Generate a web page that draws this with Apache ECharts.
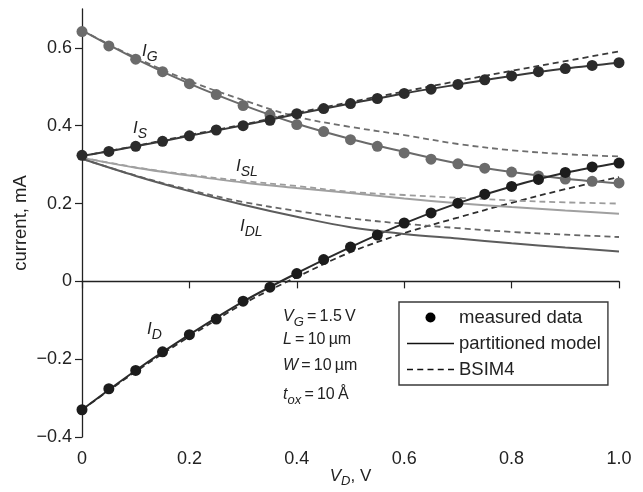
<!DOCTYPE html>
<html>
<head>
<meta charset="utf-8">
<script src="https://cdn.jsdelivr.net/npm/echarts@6/dist/echarts.min.js"></script>
<style>html,body{margin:0;padding:0;background:#fff}#c{width:643px;height:492px}</style>
</head>
<body>
<div id="c"></div>
<script>
// Measured V_D points (step 0.05)
const VD_MEAS = [0,0.05,0.1,0.15,0.2,0.25,0.3,0.35,0.4,0.45,0.5,0.55,0.6,0.65,0.7,0.75,0.8,0.85,0.9,0.95,1.0];
const IG_MEAS = [0.642,0.605,0.571,0.539,0.508,0.480,0.452,0.428,0.403,0.385,0.364,0.347,0.330,0.314,0.302,0.291,0.281,0.271,0.263,0.257,0.253];
const IS_MEAS = [0.324,0.334,0.347,0.360,0.374,0.389,0.400,0.414,0.431,0.444,0.457,0.470,0.483,0.494,0.506,0.518,0.528,0.539,0.547,0.555,0.562];
const ID_MEAS = [-0.330,-0.276,-0.229,-0.181,-0.137,-0.097,-0.051,-0.015,0.020,0.056,0.088,0.119,0.150,0.176,0.201,0.224,0.244,0.262,0.280,0.294,0.304];

// Model curves V_D points (step 0.1)
const VD_MODEL = [0,0.1,0.2,0.3,0.4,0.5,0.6,0.7,0.8,0.9,1.0];
// partitioned model
const IG_PART  = [0.645,0.572,0.508,0.453,0.405,0.366,0.333,0.303,0.281,0.264,0.252];
const IS_PART  = [0.322,0.347,0.374,0.401,0.430,0.457,0.483,0.506,0.528,0.547,0.562];
const ID_PART  = [-0.330,-0.229,-0.137,-0.052,0.021,0.088,0.149,0.201,0.244,0.279,0.305];
const ISL_PART = [0.318,0.292,0.272,0.254,0.240,0.227,0.213,0.201,0.191,0.182,0.174];
const IDL_PART = [0.315,0.271,0.232,0.197,0.166,0.139,0.122,0.110,0.098,0.087,0.077];
// BSIM4
const IG_BSIM  = [0.645,0.575,0.515,0.466,0.423,0.397,0.376,0.353,0.337,0.327,0.321];
const IS_BSIM  = [0.322,0.348,0.376,0.403,0.433,0.461,0.488,0.515,0.541,0.566,0.591];
const ID_BSIM  = [-0.330,-0.232,-0.142,-0.058,0.011,0.075,0.124,0.164,0.202,0.237,0.268];
const ISL_BSIM = [0.318,0.293,0.274,0.258,0.245,0.230,0.222,0.215,0.208,0.203,0.200];
const IDL_BSIM = [0.315,0.272,0.235,0.204,0.181,0.162,0.148,0.137,0.127,0.120,0.114];

const Y_TICKS = [-0.4,-0.2,0,0.2,0.4,0.6];
const X_TICKS = [0,0.2,0.4,0.6,0.8,1.0];
const LEGEND_NAMES = ['measured data','partitioned model','BSIM4'];

const FONT = "'Liberation Sans', Arial, Helvetica, sans-serif";
const zip = (xs, ys) => xs.map((x, i) => [x, ys[i]]);

function lineS(name, ys, color, width, dashed) {
  return {
    name, type: 'line', data: zip(VD_MODEL, ys), smooth: 0.35,
    symbol: 'none', showSymbol: false, silent: true, z: 2,
    lineStyle: { color, width, type: dashed ? [6, 4] : 'solid' }
  };
}
function dotS(name, ys, color) {
  return {
    name, type: 'scatter', data: zip(VD_MEAS, ys), symbolSize: 11, z: 3,
    itemStyle: { color, opacity: 1 }, silent: true
  };
}

function curveLabel(main, s, left, top) {
  return {
    type: 'text', left, top, z: 10,
    style: {
      text: '{i|' + main + '}{s|' + s + '}',
      rich: {
        i: { fontSize: 17, fontStyle: 'italic', fontFamily: FONT, fill: '#222', lineHeight: 19 },
        s: { fontSize: 14, fontStyle: 'italic', fontFamily: FONT, fill: '#222', lineHeight: 14, padding: [11, 0, 0, 0] }
      }
    }
  };
}
function annot(parts, left, top) {
  return { type: 'text', left, top, z: 10, style: { text: parts, rich: {
    it: { fontSize: 16, fontStyle: 'italic', fontFamily: FONT, fill: '#222', lineHeight: 18 },
    n: { fontSize: 16, fontFamily: FONT, fill: '#222', lineHeight: 18 },
    s: { fontSize: 13, fontStyle: 'italic', fontFamily: FONT, fill: '#222', lineHeight: 13, padding: [11, 0, 0, 0] }
  } } };
}

const fmtY = v => v === 0 ? '0' : (v < 0 ? '\u2212' + Math.abs(v).toFixed(1) : v.toFixed(1));
const fmtX = v => v === 0 ? '0' : v.toFixed(1);

// legend icons (shape only)
const ICON_SOLID = 'path://M0,0L47,0L47,1.6L0,1.6Z';
const ICON_DASH = 'path://M0,0h6v1.6h-6zM10.25,0h6v1.6h-6zM20.5,0h6v1.6h-6zM30.75,0h6v1.6h-6zM41,0h6v1.6h-6z';

const chart = echarts.init(document.getElementById('c'), null, { renderer: 'canvas' });
chart.setOption({
  animation: false,
  backgroundColor: '#fff',
  grid: { left: 82, right: 24, top: 9, bottom: 55, containLabel: false, outerBoundsMode: 'none' },
  xAxis: {
    type: 'value', min: 0, max: 1, interval: 0.2,
    name: '{v|V}{d|D}{n|, V}', nameLocation: 'middle', nameGap: 30, nameMoveOverlap: false,
    nameTextStyle: { rich: {
      v: { fontSize: 17, fontStyle: 'italic', fontFamily: FONT, color: '#222', lineHeight: 19 },
      d: { fontSize: 13, fontStyle: 'italic', fontFamily: FONT, color: '#222', lineHeight: 13, padding: [10, 0, 0, 0] },
      n: { fontSize: 17, fontFamily: FONT, color: '#222', lineHeight: 19 }
    } },
    axisLine: { lineStyle: { color: '#222', width: 1.3 } },
    axisTick: { length: 7, lineStyle: { color: '#222', width: 1.2 }, customValues: X_TICKS },
    axisLabel: { customValues: X_TICKS, formatter: fmtX, fontSize: 18, fontFamily: FONT, color: '#222', margin: 13 },
    splitLine: { show: false }
  },
  yAxis: {
    type: 'value', min: -0.4, max: 0.7, interval: 0.2,
    name: 'current, mA', nameLocation: 'middle', nameGap: 52, nameMoveOverlap: false,
    nameTextStyle: { fontSize: 18.5, fontFamily: FONT, color: '#222' },
    axisLine: { show: true, lineStyle: { color: '#222', width: 1.3 } },
    axisTick: { show: true, length: 7, lineStyle: { color: '#222', width: 1.2 }, customValues: Y_TICKS },
    axisLabel: { customValues: Y_TICKS, formatter: fmtY, fontSize: 18, fontFamily: FONT, color: '#222', margin: 10 },
    splitLine: { show: false }
  },
  legend: {
    data: [
      { name: LEGEND_NAMES[0], icon: 'circle', itemStyle: { color: '#000', borderWidth: 0, opacity: 1 } },
      { name: LEGEND_NAMES[1], icon: ICON_SOLID, itemStyle: { color: '#111', borderWidth: 0 } },
      { name: LEGEND_NAMES[2], icon: ICON_DASH, itemStyle: { color: '#111', borderWidth: 0 } }
    ],
    orient: 'vertical', left: 399, top: 302,
    backgroundColor: '#fff', borderColor: '#3a3a3a', borderWidth: 1.4,
    padding: [6, 7, 6, 8], itemWidth: 47, itemHeight: 10, itemGap: 7,
    itemStyle: { color: '#000', opacity: 1 },
    textStyle: { fontSize: 18.5, fontFamily: FONT, color: '#222' },
    selectedMode: false
  },
  series: [
    // legend proxies
    { name: LEGEND_NAMES[0], type: 'scatter', data: [], itemStyle: { color: '#000' } },
    { name: LEGEND_NAMES[1], type: 'scatter', data: [], itemStyle: { color: '#111' } },
    { name: LEGEND_NAMES[2], type: 'scatter', data: [], itemStyle: { color: '#111' } },
    // BSIM4 dashed
    lineS('IG bsim', IG_BSIM, '#6e6e6e', 1.8, true),
    lineS('IS bsim', IS_BSIM, '#3a3a3a', 1.8, true),
    lineS('ID bsim', ID_BSIM, '#2e2e2e', 1.8, true),
    lineS('ISL bsim', ISL_BSIM, '#9c9c9c', 1.8, true),
    lineS('IDL bsim', IDL_BSIM, '#666666', 1.8, true),
    // partitioned model solid
    lineS('IG part', IG_PART, '#6a6a6a', 2, false),
    lineS('IS part', IS_PART, '#383838', 2, false),
    lineS('ID part', ID_PART, '#2a2a2a', 2, false),
    lineS('ISL part', ISL_PART, '#a0a0a0', 2, false),
    lineS('IDL part', IDL_PART, '#5c5c5c', 2, false),
    // measured
    dotS('IG meas', IG_MEAS, '#6b6b6b'),
    dotS('IS meas', IS_MEAS, '#2b2b2b'),
    dotS('ID meas', ID_MEAS, '#1c1c1c')
  ],
  graphic: [
    curveLabel('I', 'G', 142, 39),
    curveLabel('I', 'S', 133, 116),
    curveLabel('I', 'SL', 236, 154),
    curveLabel('I', 'DL', 240, 214),
    curveLabel('I', 'D', 147, 317),
    annot('{it|V}{s|G}{n|\u2009=\u20091.5\u2009V}', 283, 305),
    annot('{it|L}{n|\u2009=\u200910\u2009\u00b5m}', 283, 332),
    annot('{it|W}{n|\u2009=\u200910\u2009\u00b5m}', 283, 358),
    annot('{it|t}{s|ox}{n|\u2009=\u200910\u2009\u00c5}', 283, 383)
  ]
});
</script>
</body>
</html>
